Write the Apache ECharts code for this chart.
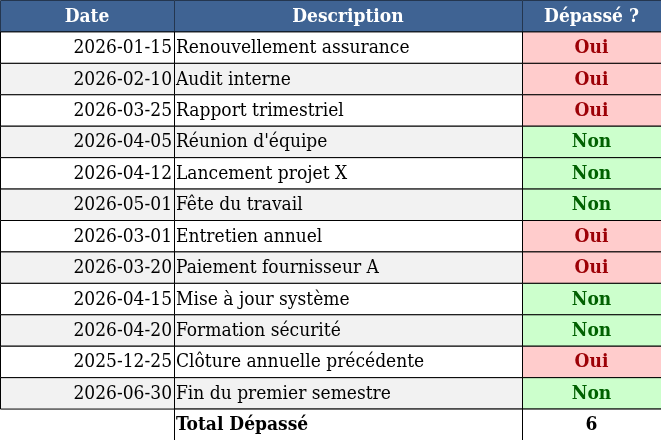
<!DOCTYPE html>
<html><head><meta charset="utf-8">
<script src="https://cdn.jsdelivr.net/npm/echarts@6/dist/echarts.min.js"></script>
<style>html,body{margin:0;padding:0;background:#fff}#c{width:661px;height:440px}</style>
</head><body><div id="c"></div>
<script>
const headers = ["Date", "Description", "Dépassé ?"];
const dates = ["2026-01-15","2026-02-10","2026-03-25","2026-04-05","2026-04-12","2026-05-01","2026-03-01","2026-03-20","2026-04-15","2026-04-20","2025-12-25","2026-06-30"];
const descriptions = ["Renouvellement assurance","Audit interne","Rapport trimestriel","Réunion d'équipe","Lancement projet X","Fête du travail","Entretien annuel","Paiement fournisseur A","Mise à jour système","Formation sécurité","Clôture annuelle précédente","Fin du premier semestre"];
const status = ["Oui","Oui","Oui","Non","Non","Non","Oui","Oui","Non","Non","Oui","Non"];
const totalLabel = "Total Dépassé";
const totalValue = 6;

const colEdges = [0, 174, 522, 661];
const FONT = "DejaVu Serif Condensed";
const cells = [];
headers.forEach((h, c) => cells.push({value: [c, 0], kind: "header", text: h}));
dates.forEach((d, r) => {
  cells.push({value: [0, r + 1], kind: "date", text: d});
  cells.push({value: [1, r + 1], kind: "desc", text: descriptions[r]});
  cells.push({value: [2, r + 1], kind: status[r], text: status[r]});
});
const tr = dates.length + 1;
cells.push({value: [1, tr], kind: "total", text: totalLabel});
cells.push({value: [2, tr], kind: "totalv", text: String(totalValue)});
const nRows = tr + 1;

const chart = echarts.init(document.getElementById('c'));
chart.setOption({
  animation: false,
  grid: {left: 0, right: 0, top: 0, bottom: 0},
  xAxis: {type: 'value', min: 0, max: 661, show: false},
  yAxis: {type: 'value', min: 0, max: nRows, inverse: true, show: false},
  series: [{
    type: 'custom',
    data: cells,
    renderItem: function (params, api) {
      const item = cells[params.dataIndex];
      const c = item.value[0], r = item.value[1];
      const p0 = api.coord([colEdges[c], r]);
      const p1 = api.coord([colEdges[c + 1], r + 1]);
      const x = p0[0], y = p0[1], w = p1[0] - p0[0], h = p1[1] - p0[1];
      let bg = (r % 2 === 0) ? '#f2f2f2' : '#ffffff';
      let color = '#000', weight = 'normal', align = 'center', size = 19;
      if (item.kind === 'header') { bg = '#3f6393'; color = '#fff'; weight = 'bold'; size = 19; }
      else if (item.kind === 'Oui') { bg = '#ffcccc'; color = '#9c0006'; weight = 'bold'; }
      else if (item.kind === 'Non') { bg = '#ccffcc'; color = '#006100'; weight = 'bold'; }
      else if (item.kind === 'total' || item.kind === 'totalv') { bg = '#ffffff'; weight = 'bold'; }
      let tx = x + w / 2;
      if (item.kind === 'date') { align = 'right'; tx = x + w - 2; }
      if (item.kind === 'desc' || item.kind === 'total') { align = 'left'; tx = x + 2; }
      return {type: 'group', children: [
        {type: 'rect', shape: {x: x + 0.5, y: y + 0.5, width: w, height: h},
         style: {fill: bg, stroke: item.kind === 'header' ? '#24364f' : '#000', lineWidth: 1}},
        {type: 'text', style: {x: tx, y: y + h / 2 + 1, text: item.text, fill: color,
          font: weight + ' ' + size + 'px "' + FONT + '"', align: align, verticalAlign: 'middle'}}
      ]};
    }
  }]
});
</script></body></html>
